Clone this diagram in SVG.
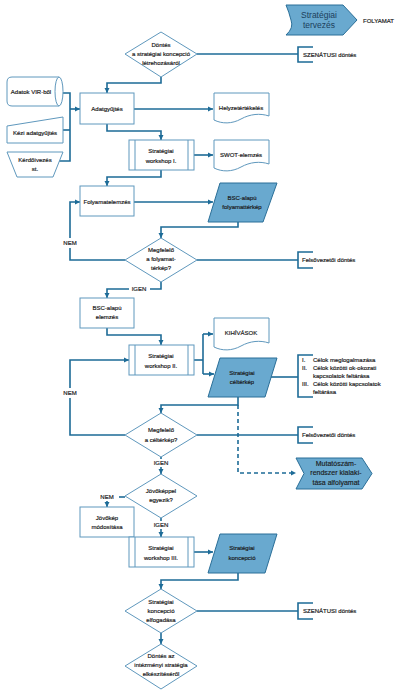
<svg xmlns="http://www.w3.org/2000/svg" width="400" height="693" viewBox="0 0 400 693">
<style>
.t{font-family:"Liberation Sans",Arial,sans-serif;font-size:6px;fill:#1a1a1a;stroke:#1a1a1a;stroke-width:0.18;text-anchor:middle}
.ts{font-family:"Liberation Sans",Arial,sans-serif;font-size:6px;fill:#1a1a1a;stroke:#1a1a1a;stroke-width:0.18}
.box{fill:#fff;stroke:#5f98bd;stroke-width:1}
.dk{fill:#69a9cf;stroke:#2b6f98;stroke-width:1}
.c{fill:none;stroke:#1d6b97;stroke-width:1.6}
.ca{fill:none;stroke:#1d6b97;stroke-width:1.6;marker-end:url(#ah)}
.br{fill:none;stroke:#1d6b97;stroke-width:1.6}
.big{font-family:"Liberation Sans",Arial,sans-serif;font-size:8.5px;fill:#1c3f5c;text-anchor:middle}
.mid{font-family:"Liberation Sans",Arial,sans-serif;font-size:7px;fill:#1a1a1a;stroke:#1a1a1a;stroke-width:0.15;text-anchor:middle}
</style>
<defs>
<marker id="ah" markerUnits="userSpaceOnUse" markerWidth="6" markerHeight="6" refX="5" refY="3" orient="auto">
<path d="M0,0.5 L5,3 L0,5.5 Z" fill="#1d6b97"/>
</marker>
</defs>
<rect width="400" height="693" fill="#fff"/>

<g id="connectors">
<path class="c" d="M197,54 H298"/>
<path class="ca" d="M161,77 V83 H107 V93"/>
<path class="c" d="M63,93 H70 V161 H59"/>
<path class="c" d="M63,130 H70"/>
<path class="ca" d="M70,109 H80"/>
<path class="ca" d="M134,109 H213"/>
<path class="ca" d="M107,124 V131 H161 V140"/>
<path class="ca" d="M194,155 H213"/>
<path class="ca" d="M161,170 V177 H107 V186"/>
<path class="ca" d="M134,202 H213"/>
<path class="ca" d="M238,222 V227 H161 V238"/>
<path class="c" d="M125,260 H70 V248"/>
<path class="ca" d="M70,238 V202 H80"/>
<path class="c" d="M197,260 H298"/>
<path class="c" d="M161,282 V289 H150"/>
<path class="ca" d="M129,289 H107 V298"/>
<path class="ca" d="M107,328 V335 H161 V345"/>
<path class="c" d="M194,360 H203"/>
<path class="c" d="M203,334 V374"/>
<path class="ca" d="M203,334 H213"/>
<path class="ca" d="M203,374 H214"/>
<path class="c" d="M271,377 H298"/>
<path class="ca" d="M238,397 V405 H161 V413"/>
<path class="ca" d="M238,405 V473 H296" stroke-dasharray="4,3"/>
<path class="c" d="M125,435 H70 V398"/>
<path class="ca" d="M70,388 V360 H129"/>
<path class="c" d="M197,435 H298"/>
<path class="c" d="M161,457 V459"/>
<path class="ca" d="M161,467 V474"/>
<path class="c" d="M125,497 H119"/>
<path class="ca" d="M107,501 V507"/>
<path class="c" d="M161,518 V521"/>
<path class="ca" d="M161,529 V537"/>
<path class="ca" d="M194,552 H213"/>
<path class="ca" d="M238,573 V580 H161 V589"/>
<path class="c" d="M197,611 H298"/>
<path class="ca" d="M161,633 V644"/>
<text class="t" x="70" y="245">NEM</text>
<text class="t" x="139" y="291">IGEN</text>
<text class="t" x="70" y="395">NEM</text>
<text class="t" x="161" y="465">IGEN</text>
<text class="t" x="107" y="499">NEM</text>
<text class="t" x="161" y="527">IGEN</text>
</g>

<g id="header">
<path class="dk" d="M286,5 H343 L357,20 L343,35 H286 Q294,28 291,20 Q289,12 286,5 Z"/>
<text class="big" x="319" y="18">Stratégiai</text>
<text class="big" x="319" y="28">tervezés</text>
<text class="ts" x="363" y="23">FOLYAMAT</text>
</g>

<g id="d1">
<polygon class="box" points="161,32 197,54 161,77 125,54"/>
<text class="t" x="161" y="47">Döntés</text>
<text class="t" x="161" y="56">a stratégiai koncepció</text>
<text class="t" x="161" y="65">létrehozásáról</text>
</g>
<g id="b1">
<path class="br" d="M313,47 H298 V62 H313"/>
<text class="ts" x="303" y="57">SZENÁTUSI döntés</text>
</g>

<g id="vir">
<path class="box" d="M59,77 H12 Q7,77 7,82 V101 Q7,106 12,106 H59 Z"/>
<ellipse class="box" cx="59" cy="91.5" rx="4" ry="14.5"/>
<text class="t" x="31" y="94">Adatok VIR-ből</text>
</g>
<g id="kezi">
<polygon class="box" points="7,126 63,117 63,143 7,143"/>
<text class="t" x="35" y="135">Kézi adatgyűjtés</text>
</g>
<g id="kerdo">
<polygon class="box" points="7,152 63,152 53,177 17,177"/>
<text class="t" x="35" y="162">Kérdőívezés</text>
<text class="t" x="35" y="171">st.</text>
</g>

<g id="adat">
<rect class="box" x="80" y="93" width="54" height="31"/>
<text class="t" x="107" y="111">Adatgyűjtés</text>
</g>
<g id="helyzet">
<path class="box" d="M214,93 H269 V116 C260,113 250,114 241,119 C232,124 222,124 214,120 Z"/>
<text class="t" x="241" y="110">Helyzetértékelés</text>
</g>
<g id="ws1">
<rect class="box" x="129" y="140" width="65" height="30"/>
<path class="box" d="M135,140 V170 M188,140 V170"/>
<text class="t" x="161" y="153">Stratégiai</text>
<text class="t" x="161" y="163">workshop I.</text>
</g>
<g id="swot">
<path class="box" d="M214,140 H269 V164 C260,161 250,162 241,167 C232,172 222,172 214,168 Z"/>
<text class="t" x="241" y="157">SWOT-elemzés</text>
</g>
<g id="folyam">
<rect class="box" x="80" y="186" width="54" height="30"/>
<text class="t" x="107" y="204">Folyamatelemzés</text>
</g>
<g id="bsc1">
<polygon class="dk" points="220,183 277,183 263,222 208,222"/>
<text class="t" x="242" y="200">BSC-alapú</text>
<text class="t" x="242" y="209">folyamattérkép</text>
</g>
<g id="d2">
<polygon class="box" points="161,238 197,260 161,282 125,260"/>
<text class="t" x="161" y="252">Megfelelő</text>
<text class="t" x="161" y="261">a folyamat-</text>
<text class="t" x="161" y="270">térkép?</text>
</g>
<g id="b2">
<path class="br" d="M313,252 H298 V268 H313"/>
<text class="ts" x="302" y="262">Felsővezetői döntés</text>
</g>
<g id="bsc2">
<rect class="box" x="80" y="298" width="54" height="30"/>
<text class="t" x="107" y="310">BSC-alapú</text>
<text class="t" x="107" y="319">elemzés</text>
</g>
<g id="ws2">
<rect class="box" x="129" y="345" width="65" height="30"/>
<path class="box" d="M135,345 V375 M188,345 V375"/>
<text class="t" x="161" y="358">Stratégiai</text>
<text class="t" x="161" y="368">workshop II.</text>
</g>
<g id="kihiv">
<path class="box" d="M214,318 H269 V343 C260,340 250,341 241,346 C232,351 222,351 214,347 Z"/>
<text class="t" x="241" y="335">KIHÍVÁSOK</text>
</g>
<g id="celt">
<polygon class="dk" points="220,358 277,358 265,397 208,397"/>
<text class="t" x="242" y="375">Stratégiai</text>
<text class="t" x="242" y="384">céltérkép</text>
</g>
<g id="b3">
<path class="br" d="M313,355 H298 V397 H313"/>
<text class="ts" x="302" y="362">I.</text>
<text class="ts" x="313" y="362">Célok meglogalmazása</text>
<text class="ts" x="302" y="370">II.</text>
<text class="ts" x="313" y="370">Célok közötti ok-okozati</text>
<text class="ts" x="313" y="378">kapcsolatok feltárása</text>
<text class="ts" x="302" y="386">III.</text>
<text class="ts" x="313" y="386">Célok közötti kapcsolatok</text>
<text class="ts" x="313" y="394">feltárása</text>
</g>
<g id="d3">
<polygon class="box" points="161,413 197,435 161,457 125,435"/>
<text class="t" x="161" y="432">Megfelelő</text>
<text class="t" x="161" y="442">a céltérkép?</text>
</g>
<g id="b4">
<path class="br" d="M313,427 H298 V443 H313"/>
<text class="ts" x="302" y="437">Felsővezetői döntés</text>
</g>
<g id="mutato">
<path class="dk" d="M296,458 H362 L372,473.5 L362,489 H296 L304,473.5 Z"/>
<text class="mid" x="336" y="466">Mutatószám-</text>
<text class="mid" x="336" y="475">rendszer kialakí-</text>
<text class="mid" x="336" y="485">tása alfolyamat</text>
</g>
<g id="d4">
<polygon class="box" points="161,474 197,496 161,518 125,496"/>
<text class="t" x="161" y="493">Jövőképpel</text>
<text class="t" x="161" y="502">egyezik?</text>
</g>
<g id="jovo">
<rect class="box" x="80" y="507" width="54" height="30"/>
<text class="t" x="107" y="520">Jövőkép</text>
<text class="t" x="107" y="529">módosítása</text>
</g>
<g id="ws3">
<rect class="box" x="129" y="537" width="65" height="30"/>
<path class="box" d="M135,537 V567 M188,537 V567"/>
<text class="t" x="161" y="550">Stratégiai</text>
<text class="t" x="161" y="560">workshop III.</text>
</g>
<g id="konc">
<polygon class="dk" points="220,534 277,534 265,573 208,573"/>
<text class="t" x="242" y="550">Stratégiai</text>
<text class="t" x="242" y="560">koncepció</text>
</g>
<g id="d5">
<polygon class="box" points="161,589 197,611 161,633 125,611"/>
<text class="t" x="161" y="604">Stratégiai</text>
<text class="t" x="161" y="613">koncepció</text>
<text class="t" x="161" y="622">elfogadása</text>
</g>
<g id="b5">
<path class="br" d="M313,603 H298 V619 H313"/>
<text class="ts" x="303" y="613">SZENÁTUSI döntés</text>
</g>
<g id="d6">
<polygon class="box" points="161,644 197,666 161,689 125,666"/>
<text class="t" x="161" y="658">Döntés az</text>
<text class="t" x="161" y="667">intézményi stratégia</text>
<text class="t" x="161" y="676">elkészítéséről</text>
</g>
</svg>
